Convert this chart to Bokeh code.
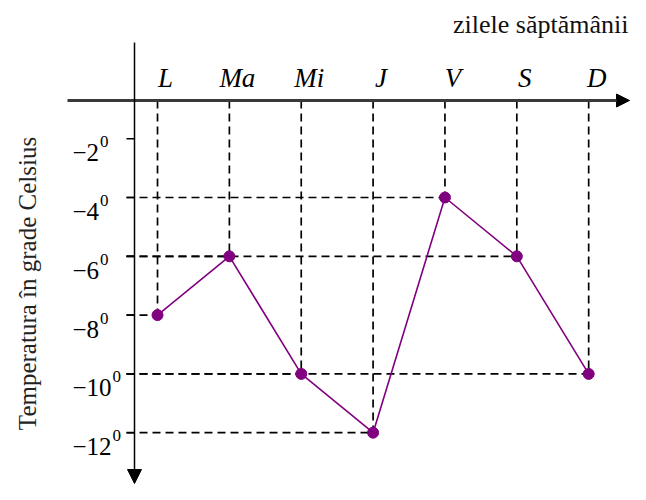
import math
from bokeh.plotting import figure
from bokeh.models import Range1d, Arrow, NormalHead, Label
from bokeh.core.properties import value
from bokeh.embed import file_html
from bokeh.resources import INLINE

# ---- data ----
days = ["L", "Ma", "Mi", "J", "V", "S", "D"]
temperatures = [-8, -6, -10, -12, -4, -6, -10]
tick_values = [-2, -4, -6, -8, -10, -12]
tick_labels = ["\u22122", "\u22124", "\u22126", "\u22128", "\u221210", "\u221212"]
x_title = "zilele săptămânii"
y_title = "Temperatura în grade Celsius"

# ---- layout helpers ----
W, H = 630, 484
X0, X1 = -2.185, 6.582
Y0, Y1 = -13.762, 2.701


def sx(px):
    """canvas pixel x -> data x"""
    return X0 + px / W * (X1 - X0)


def sy(py):
    """canvas pixel y -> data y"""
    return Y1 - py / H * (Y1 - Y0)


idx = list(range(len(days)))
AX_Y = sy(100)      # level of the horizontal (days) axis
AX_X = sx(134)      # position of the vertical (temperature) axis
TICK_L = sx(126)

SERIF = value("Liberation Serif")
PURPLE = "#800080"

p = figure(width=W, height=H, x_range=Range1d(X0, X1), y_range=Range1d(Y0, Y1),
           output_backend="svg", toolbar_location=None, min_border=0,
           x_axis_type=None, y_axis_type=None, outline_line_color=None)
p.grid.visible = False

# dashed guide lines
p.segment(x0=idx, y0=[AX_Y] * len(idx), x1=idx, y1=temperatures,
          line_color="black", line_width=1.7, line_dash="8 5")
p.segment(x0=[TICK_L] * len(idx), y0=temperatures, x1=idx, y1=temperatures,
          line_color="black", line_width=1.7, line_dash="8 5")

# tick stubs on vertical axis
p.segment(x0=[TICK_L] * len(tick_values), y0=tick_values,
          x1=[AX_X] * len(tick_values), y1=tick_values,
          line_color="black", line_width=1.5)

# axes with arrows
p.add_layout(Arrow(end=NormalHead(size=13, fill_color="black", line_color="black"),
                   x_start=sx(67), y_start=AX_Y, x_end=sx(629), y_end=AX_Y,
                   line_color="#3a3a3a", line_width=3))
p.add_layout(Arrow(end=NormalHead(size=14, fill_color="black", line_color="black"),
                   x_start=AX_X, y_start=sy(42), x_end=AX_X, y_end=sy(483),
                   line_color="black", line_width=1.5))

# temperature line
p.line(idx, temperatures, line_color=PURPLE, line_width=1.6)
p.scatter(idx, temperatures, size=11, fill_color=PURPLE, line_color=PURPLE)

# tick labels with superscript 0
FS = 25
p.text(x=[sx(72)] * len(tick_values), y=tick_values, text=tick_labels,
       text_font=SERIF, text_font_size=f"{FS}px", text_color="black",
       text_align="left", text_baseline="middle", y_offset=14)
sup_offsets = [(0.564 + 0.5 * (len(t) - 1)) * FS + 1 for t in tick_labels]
p.text(x=[sx(72)] * len(tick_values), y=tick_values, text=["0"] * len(tick_values),
       text_font=SERIF, text_font_size="17px", text_color="black",
       text_align="left", text_baseline="middle", x_offset=sup_offsets, y_offset=3)

# day labels
p.text(x=idx, y=[AX_Y] * len(idx), text=days, text_font=SERIF,
       text_font_style="italic", text_font_size="27px", text_color="black",
       text_align="center", text_baseline="alphabetic", x_offset=8, y_offset=-23)

# titles
p.add_layout(Label(x=sx(628), y=sy(24), text=x_title, text_font="Liberation Serif",
                   text_font_size="26px", text_color="#111111",
                   text_align="right", text_baseline="middle"))
p.add_layout(Label(x=sx(27), y=sy(283), text=y_title, text_font="Liberation Serif",
                   text_font_size="25px", text_color="#222222", angle=math.pi / 2,
                   text_align="center", text_baseline="middle"))

open("out.html", "w").write(file_html(p, INLINE))
